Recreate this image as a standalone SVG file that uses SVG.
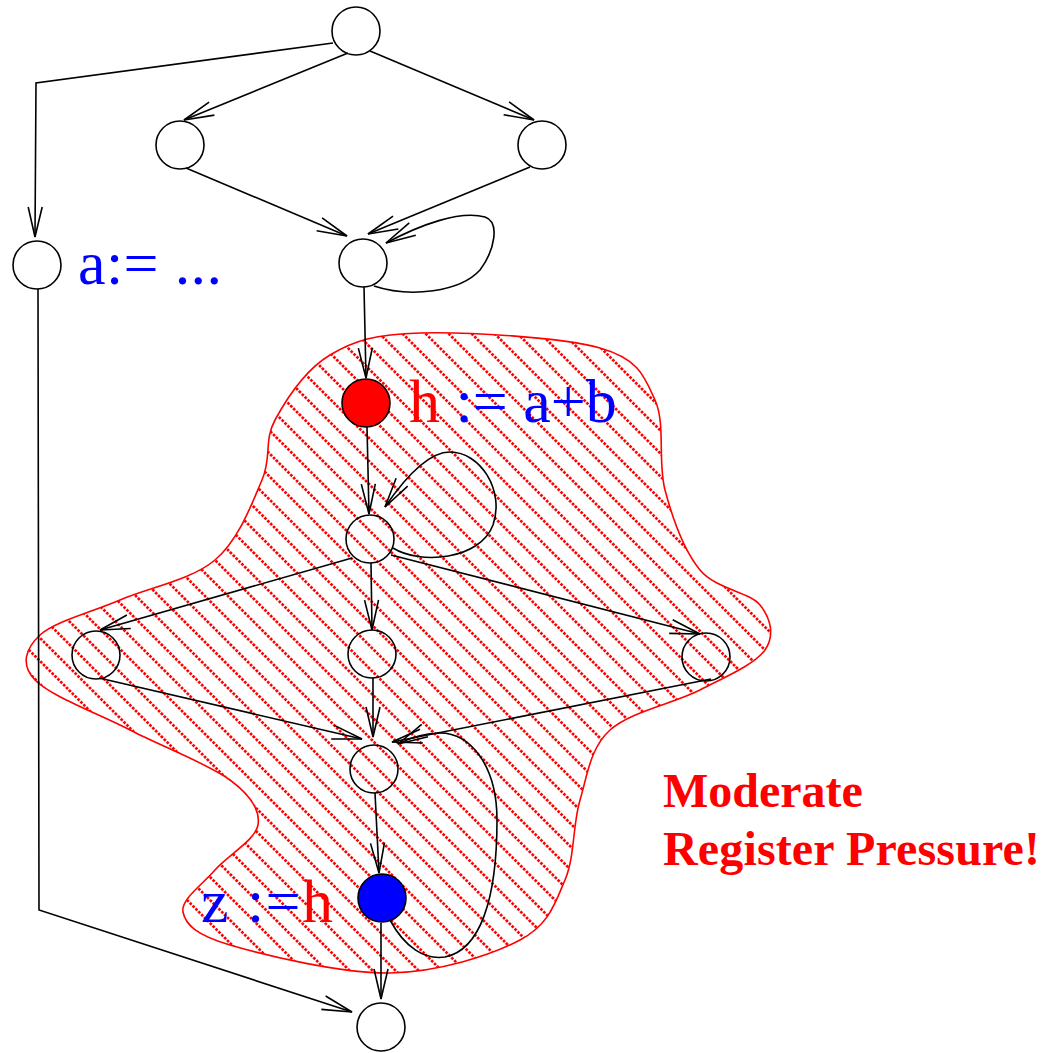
<svg xmlns="http://www.w3.org/2000/svg" width="1050" height="1053" viewBox="0 0 1050 1053">
<style>
.n{fill:none;stroke:#000;stroke-width:1.6}
.e{fill:none;stroke:#000;stroke-width:1.6;marker-end:url(#ah)}
.t{font-family:"Liberation Serif","Times New Roman",serif;font-size:62px}
.blue{fill:#0000ff}
.red{fill:#ff0000}
.note{font-family:"Liberation Serif","Times New Roman",serif;font-size:48px;font-weight:bold;fill:#ff0000}
.h{stroke:#ff0000;stroke-width:2.7;stroke-dasharray:2.6 1.466;fill:none}
</style>
<defs>
<marker id="ah" markerUnits="userSpaceOnUse" markerWidth="34" markerHeight="18" refX="31" refY="9" orient="auto" viewBox="0 0 34 18">
<path d="M1,2 L31,9 L1,16" fill="none" stroke="#000" stroke-width="1.6"/>
</marker>
<pattern id="hatch" patternUnits="userSpaceOnUse" x="0" y="0" width="23" height="23">
<path class="h" d="M0,0 L23,23"/>
<path class="h" d="M-3,20 L3,26"/>
<path class="h" d="M20,-3 L26,3"/>
</pattern>
</defs>
<rect width="1050" height="1053" fill="#fff"/>
<g id="region">
<path fill="url(#hatch)" stroke="#ff0000" stroke-width="1.6" d="M420,333 C465,331.8 560.8,336.8 600,348 C639.2,359.2 644.2,376.3 655,400 C665.8,423.7 657.5,461.7 665,490 C672.5,518.3 684.2,550.8 700,570 C715.8,589.2 749.2,591.7 760,605 C770.8,618.3 775,635.8 765,650 C755,664.2 725.8,676.7 700,690 C674.2,703.3 630,711.7 610,730 C590,748.3 587.5,775 580,800 C572.5,825 575,856.7 565,880 C555,903.3 549.2,924.5 520,940 C490.8,955.5 438.3,972.2 390,973 C341.7,973.8 264.5,955.2 230,945 C195.5,934.8 185.5,924.5 183,912 C180.5,899.5 202.5,884.5 215,870 C227.5,855.5 255.5,840 258,825 C260.5,810 251.3,795.8 230,780 C208.7,764.2 162.5,746.7 130,730 C97.5,713.3 50,695.8 35,680 C20,664.2 25.8,648.3 40,635 C54.2,621.7 90.8,612.5 120,600 C149.2,587.5 191.3,580 215,560 C238.7,540 252,503.3 262,480 C272,456.7 263.7,440.8 275,420 C286.3,399.2 305.8,369.5 330,355 C354.2,340.5 375,334.2 420,333 Z"/>
</g>
<g id="connectors">
<path class="e" d="M348,53 L184,120"/>
<path class="e" d="M370,51 L534,120"/>
<path class="e" d="M333,43 L36,83 L35,237"/>
<path class="e" d="M186,168 L347,236"/>
<path class="e" d="M530,167 L368,234"/>
<path class="e" d="M374,286 C410,298 460,292 480,270 C495,250 500,222 485,217 C460,210 420,225 386,243"/>
<path class="e" d="M364,287 L366,378"/>
<path class="e" d="M367,427 L369,514"/>
<path class="e" d="M393,548 C420,565 480,560 493,525 C505,490 480,452 450,452 C425,452 400,485 385,507"/>
<path class="e" d="M352,558 L100,630"/>
<path class="e" d="M371,563 L372,630"/>
<path class="e" d="M391,555 L700,634"/>
<path class="e" d="M99,678 L362,739"/>
<path class="e" d="M373,678 L373,737"/>
<path class="e" d="M711,679 L392,742"/>
<path class="e" d="M390,920 C405,948 425,960 445,957 C480,950 497,900 497,820 C497,765 470,733 440,733 C425,733 410,738 398,744"/>
<path class="e" d="M375,793 L379,873"/>
<path class="e" d="M381,923 L381,999"/>
<path class="e" d="M38,289 L39,910 L352,1012"/>
</g>
<g id="n0"><circle class="n" cx="356" cy="31" r="24"/></g>
<g id="n1"><circle class="n" cx="180" cy="145" r="24"/></g>
<g id="n2"><circle class="n" cx="542" cy="145" r="24"/></g>
<g id="n3"><circle class="n" cx="37" cy="265" r="24"/>
<text class="t blue" x="78" y="284" textLength="144">a:= ...</text></g>
<g id="n4"><circle class="n" cx="363" cy="263" r="24"/></g>
<g id="n5"><circle class="n" cx="366" cy="403" r="24" style="fill:#ff0000"/>
<text class="t" x="409" y="422"><tspan class="red">h</tspan><tspan class="blue"> := a+b</tspan></text></g>
<g id="n6"><circle class="n" cx="370" cy="539" r="24"/></g>
<g id="n7"><circle class="n" cx="96" cy="655" r="24"/></g>
<g id="n8"><circle class="n" cx="372" cy="654" r="24"/></g>
<g id="n9"><circle class="n" cx="706" cy="657" r="24"/></g>
<g id="n10"><circle class="n" cx="374" cy="769" r="24"/></g>
<g id="n11"><circle class="n" cx="382" cy="898" r="24" style="fill:#0000ff"/>
<text class="t" x="201" y="922" textLength="132"><tspan class="blue">z :=</tspan><tspan class="red">h</tspan></text></g>
<g id="n12"><circle class="n" cx="381" cy="1027" r="24"/></g>
<g id="annotation">
<text class="note" x="663" y="807">Moderate</text>
<text class="note" x="663" y="865" textLength="377">Register Pressure!</text>
</g>
</svg>
